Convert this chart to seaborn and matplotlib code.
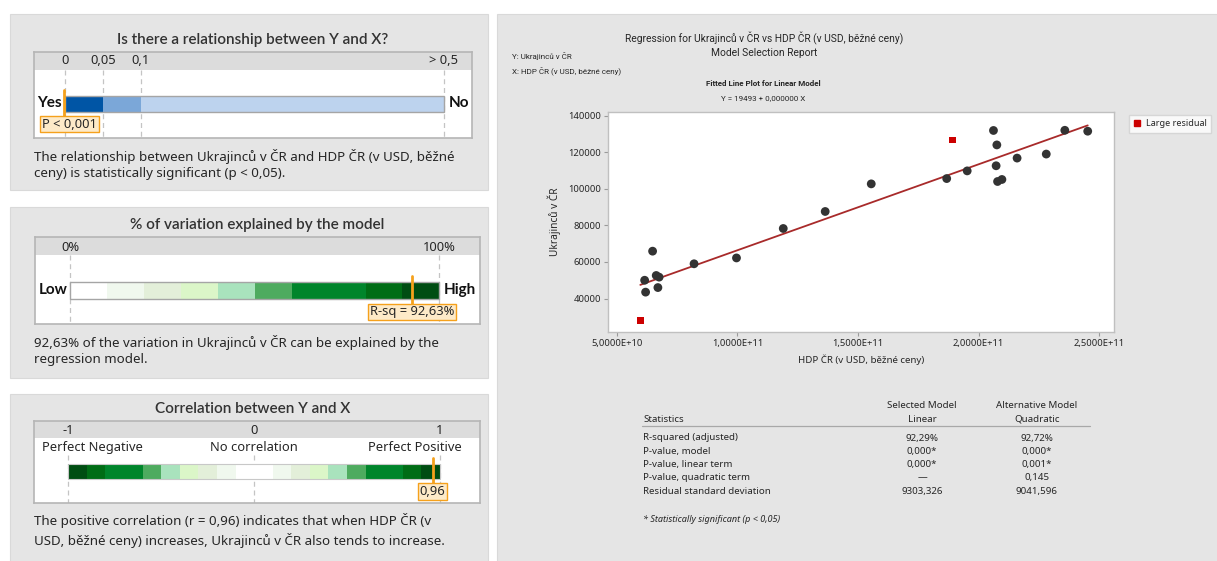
import numpy as np
import pandas as pd
import seaborn as sns
import matplotlib.pyplot as plt
from matplotlib.patches import Rectangle
from matplotlib.lines import Line2D
from matplotlib.ticker import FuncFormatter

# ---- data ----
gdp_bn = [61.5, 61.9, 64.8, 66.3, 67.5, 67.0, 82.0, 99.6, 119.0, 136.4, 155.5,
          186.8, 195.3, 206.2, 207.6, 207.3, 207.9, 209.7, 216.0, 228.1, 235.8,
          245.3, 59.7, 189.3]
ukrajincu = [50000, 43500, 65900, 52600, 51700, 46000, 59000, 62200, 78300,
             87600, 102700, 105600, 109800, 131900, 124000, 112600, 104000,
             105100, 116800, 119000, 132000, 131500, 28100, 126600]
large_residual = [False] * 22 + [True, True]

p_value = 0.001
p_ticks = [0, 0.05, 0.1, 0.5]
p_tick_labels = ['0', '0,05', '0,1', '> 0,5']
p_colors = ['#0055a5', '#7ba7d8', '#bdd3ee']

r_sq = 92.63
rsq_bounds = [0, 10, 20, 30, 40, 50, 60, 80, 90, 100]
green_scale = ['#ffffff', '#f0f8ee', '#e3efd9', '#dbf6c8', '#a9e3bd',
               '#4eab5f', '#00852b', '#006d15', '#004d12']

r_value = 0.96
r_bounds = [-1, -.9, -.8, -.6, -.5, -.4, -.3, -.2, -.1, .1, .2, .3, .4, .5,
            .6, .8, .9, 1]

stat_names = ['R-squared (adjusted)', 'P-value, model', 'P-value, linear term',
              'P-value, quadratic term', 'Residual standard deviation']
linear_vals = ['92,29%', '0,000*', '0,000*', '\u2014', '9303,326']
quad_vals = ['92,72%', '0,000*', '0,001*', '0,145', '9041,596']

df = pd.DataFrame({'gdp': np.array(gdp_bn) * 1e9, 'ukr': ukrajincu,
                   'large': large_residual})

# ---- layout ----
W, H = 1217, 561
sns.set_style('white')
plt.rcParams['font.family'] = ['Noto Sans', 'DejaVu Sans']
BOLD = ['Lato', 'DejaVu Sans']
NARROW = ['Roboto', 'DejaVu Sans']
fig = plt.figure(figsize=(W / 100, H / 100), dpi=100)
fig.patch.set_facecolor('white')

TXT = '#262626'
ORANGE = '#f5a11c'


def fx(x):
    return x / W


def fy(y):
    return 1 - y / H


def panel_bg(x0, y0, x1, y1):
    fig.patches.append(Rectangle((fx(x0), fy(y1)), (x1 - x0) / W, (y1 - y0) / H,
                                 transform=fig.transFigure, fc='#e5e5e5',
                                 ec='#d9d9d9', lw=0.8, zorder=-10))


def frame(x0, x1, y0, y1, head, xlim):
    ax = fig.add_axes([fx(x0), fy(y1), (x1 - x0) / W, (y1 - y0) / H])
    ax.set_xlim(xlim)
    ax.set_ylim(y1, y0)
    ax.set_xticks([])
    ax.set_yticks([])
    ax.set_facecolor('white')
    for s in ax.spines.values():
        s.set_color('#b5b5b5')
        s.set_linewidth(1.2)
    ax.axhspan(y0, head, color='#dcdcdc', lw=0, zorder=0)
    return ax


def marker(ax, x, y0, y1, label, lx, ly, ha='center'):
    ax.plot([x, x], [y0, y1], color=ORANGE, lw=2, zorder=5)
    ax.text(lx, ly, label, ha=ha, va='center', fontsize=9.3, color=TXT, zorder=6,
            bbox=dict(boxstyle='square,pad=0.15', fc='#fdeac8', ec=ORANGE, lw=1))


def title(x, y, s):
    fig.text(fx(x), fy(y), s, ha='center', va='center', fontsize=11,
             weight='semibold', color='#333333', family=BOLD)


def end_label(ax, x, y, s, ha):
    ax.text(x, y, s, ha=ha, va='center', fontsize=11, weight='bold',
            color='#111111', family=BOLD)


for y0, y1 in [(14, 190), (207, 378), (394, 562)]:
    panel_bg(10, y0, 488, y1)
panel_bg(497, 14, 1218, 562)

# ---- panel 1: relationship ----
p_pos = [0, 0.1, 0.2, 1.0]
title(253, 40, 'Is there a relationship between Y and X?')
ax1 = frame(34, 472, 52, 138, 69.5, (-0.082, 1.075))
for t, lab in zip(p_ticks, p_tick_labels):
    xp = np.interp(t, p_ticks, p_pos)
    ax1.text(xp, 60.5, lab, ha='center', va='center', fontsize=9.3, color=TXT)
    ax1.plot([xp, xp], [69.5, 138], color='#c4c4c4', lw=0.9, ls=(0, (4, 3)), zorder=1)
lefts = np.interp(p_ticks[:-1], p_ticks, p_pos)
rights = np.interp(p_ticks[1:], p_ticks, p_pos)
ax1.barh(104, rights - lefts, left=lefts, height=15.5, color=p_colors, lw=0, zorder=2)
ax1.barh(104, 1.0, left=0, height=15.5, fill=False, ec='#a5a5a5', lw=1, zorder=3)
end_label(ax1, -0.008, 103, 'Yes', 'right')
end_label(ax1, 1.013, 103, 'No', 'left')
marker(ax1, np.interp(p_value, p_ticks, p_pos) - 0.004, 90, 117,
       'P < 0,001', -0.06, 124, ha='left')
fig.text(fx(34), fy(156), 'The relationship between Ukrajinců v ČR and HDP ČR (v USD, běžné',
         va='center', fontsize=9.6, color=TXT)
fig.text(fx(34), fy(173), 'ceny) is statistically significant (p < 0,05).',
         va='center', fontsize=9.6, color=TXT)

# ---- panel 2: R-sq ----
title(257, 225, '% of variation explained by the model')
ax2 = frame(35, 480, 237, 324, 255, (-9.56, 111.0))
for t, lab in zip([0, 100], ['0%', '100%']):
    ax2.text(t, 247.5, lab, ha='center', va='center', fontsize=9.3, color=TXT)
    ax2.plot([t, t], [255, 324], color='#c4c4c4', lw=0.9, ls=(0, (4, 3)), zorder=1)
b = np.array(rsq_bounds)
ax2.barh(290.7, np.diff(b), left=b[:-1], height=16.5, color=green_scale, lw=0, zorder=2)
ax2.barh(290.7, 100, left=0, height=16.5, fill=False, ec='#a5a5a5', lw=1, zorder=3)
end_label(ax2, -0.8, 290, 'Low', 'right')
end_label(ax2, 101.2, 290, 'High', 'left')
marker(ax2, r_sq, 276, 305, 'R-sq = %s%%' % f'{r_sq:.2f}'.replace('.', ','), r_sq, 312)
fig.text(fx(34), fy(342), '92,63% of the variation in Ukrajinců v ČR can be explained by the',
         va='center', fontsize=9.6, color=TXT)
fig.text(fx(34), fy(360), 'regression model.', va='center', fontsize=9.6, color=TXT)

# ---- panel 3: correlation ----
title(253, 409, 'Correlation between Y and X')
ax3 = frame(34, 480, 421, 503, 437.5, (-1.1846, 1.2152))
for t, lab in zip([-1, 0, 1], ['-1', '0', '1']):
    ax3.text(t, 430, lab, ha='center', va='center', fontsize=9.3, color=TXT)
    ax3.plot([t, t], [455, 503], color='#c4c4c4', lw=0.9, ls=(0, (4, 3)), zorder=1)
ax3.text(-1.14, 447.5, 'Perfect Negative', ha='left', va='center', fontsize=9.3, color=TXT)
ax3.text(0, 447.5, 'No correlation', ha='center', va='center', fontsize=9.3, color=TXT)
ax3.text(1.117, 447.5, 'Perfect Positive', ha='right', va='center', fontsize=9.3, color=TXT)
rb = np.array(r_bounds)
mids = np.abs((rb[:-1] + rb[1:]) / 2)
shade_idx = np.digitize(mids * 100, rsq_bounds[1:-1])
seg_colors = [green_scale[i] for i in shade_idx]
ax3.barh(471.5, np.diff(rb), left=rb[:-1], height=15, color=seg_colors, lw=0, zorder=2)
ax3.barh(471.5, 2, left=-1, height=15, fill=False, ec='#c8c8c8', lw=0.8, zorder=3)
marker(ax3, r_value, 458, 486.5, f'{r_value:.2f}'.replace('.', ','), r_value, 491.5)
fig.text(fx(34), fy(521), 'The positive correlation (r = 0,96) indicates that when HDP ČR (v',
         va='center', fontsize=9.6, color=TXT)
fig.text(fx(34), fy(540), 'USD, běžné ceny) increases, Ukrajinců v ČR also tends to increase.',
         va='center', fontsize=9.6, color=TXT)

# ---- right panel ----
fig.text(fx(764), fy(38), 'Regression for Ukrajinců v ČR vs HDP ČR (v USD, běžné ceny)',
         ha='center', va='center', fontsize=7.4, color=TXT, family=NARROW)
fig.text(fx(764), fy(53), 'Model Selection Report', ha='center', va='center',
         fontsize=7.4, color=TXT, family=NARROW)
fig.text(fx(512), fy(56), 'Y: Ukrajinců v ČR', va='center', fontsize=5.8, color=TXT,
         family=NARROW)
fig.text(fx(512), fy(71), 'X: HDP ČR (v USD, běžné ceny)', va='center', fontsize=5.8,
         color=TXT, family=NARROW)
fig.text(fx(763), fy(84), 'Fitted Line Plot for Linear Model', ha='center', va='center',
         fontsize=5.8, weight='bold', color=TXT, family=NARROW)
fig.text(fx(763), fy(98), 'Y = 19493 + 0,000000 X', ha='center', va='center',
         fontsize=5.8, color=TXT, family=NARROW)

ax = fig.add_axes([fx(608), fy(332), 506 / W, 220 / H])
ax.set_facecolor('white')
sns.regplot(data=df, x='gdp', y='ukr', scatter=False, ci=None, truncate=True,
            line_kws=dict(color='#a82a2a', lw=1.3), ax=ax)
sns.scatterplot(data=df[~df.large], x='gdp', y='ukr', color='#333333', s=40,
                edgecolor='none', ax=ax, zorder=3)
sns.scatterplot(data=df[df.large], x='gdp', y='ukr', color='#cc0000', marker='s',
                s=22, edgecolor='none', ax=ax, zorder=3)
ax.set_xlim(4.63e10, 2.562e11)
ax.set_ylim(21700, 142000)
ax.set_xticks([5e10, 1e11, 1.5e11, 2e11, 2.5e11])
ax.set_yticks([40000, 60000, 80000, 100000, 120000, 140000])
ax.xaxis.set_major_formatter(FuncFormatter(lambda v, _: f'{v:.4E}'.replace('.', ',')))
ax.tick_params(labelsize=6.8, colors='#9a9a9a', labelcolor=TXT, length=3, width=0.8,
               bottom=True, left=True, pad=2)
for s in ax.spines.values():
    s.set_color('#c0c0c0')
    s.set_linewidth(1)
ax.set_xlabel('HDP ČR (v USD, běžné ceny)', fontsize=7, color=TXT, labelpad=5)
ax.set_ylabel('Ukrajinců v ČR', fontsize=7.3, color=TXT, labelpad=5)

leg_handle = Line2D([], [], marker='s', ls='none', color='#cc0000', markersize=5)
fig.legend([leg_handle], ['Large residual'], loc='upper left',
           bbox_to_anchor=(fx(1124), fy(110)), fontsize=6.5, frameon=True,
           fancybox=False, edgecolor='#d0d0d0', handlelength=0.8, handletextpad=0.6,
           borderpad=0.5)

# statistics table
TF = 7.0
fig.text(fx(643), fy(420), 'Statistics', va='center', fontsize=TF, color=TXT)
fig.text(fx(922), fy(406), 'Selected Model', ha='center', va='center', fontsize=TF, color=TXT)
fig.text(fx(922), fy(419), 'Linear', ha='center', va='center', fontsize=TF, color=TXT)
fig.text(fx(1037), fy(406), 'Alternative Model', ha='center', va='center', fontsize=TF, color=TXT)
fig.text(fx(1037), fy(419), 'Quadratic', ha='center', va='center', fontsize=TF, color=TXT)
fig.add_artist(Line2D([fx(642), fx(1090)], [fy(426), fy(426)], color='#a8a8a8', lw=0.9))
for i, (name, lv, qv) in enumerate(zip(stat_names, linear_vals, quad_vals)):
    yy = 438 + i * 13.3
    fig.text(fx(643), fy(yy), name, va='center', fontsize=TF, color=TXT)
    fig.text(fx(922), fy(yy), lv, ha='center', va='center', fontsize=TF, color=TXT)
    fig.text(fx(1037), fy(yy), qv, ha='center', va='center', fontsize=TF, color=TXT)
fig.text(fx(643), fy(520), '* Statistically significant (p < 0,05)', va='center',
         fontsize=6.5, style='italic', color=TXT)

fig.savefig('out.png', dpi=100)
